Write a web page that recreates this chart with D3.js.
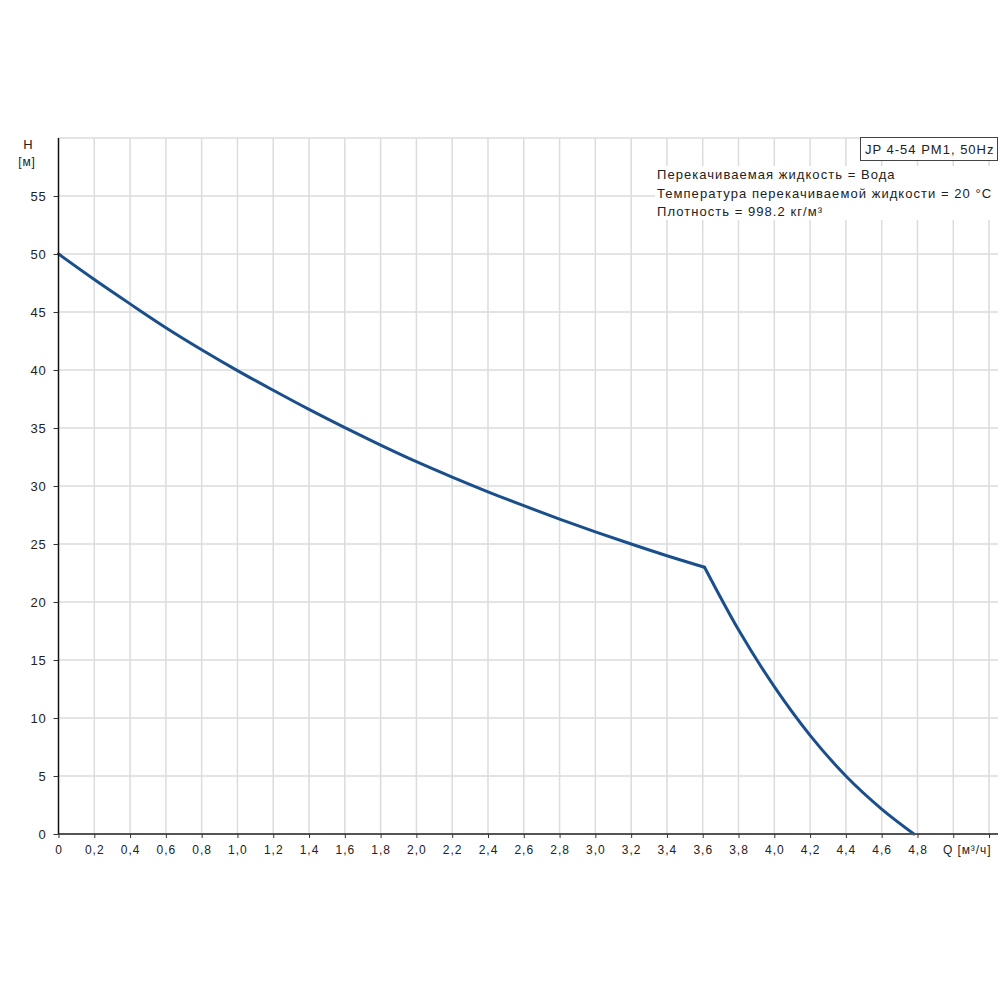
<!DOCTYPE html>
<html>
<head>
<meta charset="utf-8">
<script src="https://cdn.jsdelivr.net/npm/d3@7"></script>
<style>
  body { margin: 0; background: #fff; }
  text { font-family: "Liberation Sans", Arial, sans-serif; fill: #222; }
</style>
</head>
<body>
<div id="container"><svg></svg></div>
<script>
let width = 1000;
let height = 1000;
let padding = {'left': 58.5, 'right': 2, 'top': 138, 'bottom': 166};

// pump curve (Q in m3/h, H in m)
let flowA = [0, 0.2, 0.4, 0.6, 0.8, 1.0, 1.2, 1.4, 1.6, 1.8, 2.0, 2.2, 2.4, 2.6, 2.8, 3.0, 3.2, 3.4, 3.61];
let headA = [50, 47.8, 45.7, 43.65, 41.75, 39.95, 38.25, 36.6, 35.03, 33.53, 32.1, 30.77, 29.5, 28.3, 27.15, 26.05, 25.0, 23.99, 23.0];
let flowB = [3.61, 3.8, 4.0, 4.2, 4.4, 4.6, 4.78];
let headB = [23.0, 17.6, 12.7, 8.5, 5.0, 2.15, 0];

let xTicks = d3.range(0, 5.21, 0.2).map(d => +d.toFixed(1));
let yTicks = d3.range(0, 56, 5);
let yGrid = d3.range(5, 61, 5);
let xLabelTicks = xTicks.filter(d => d <= 4.8);

let title = 'JP 4-54 PM1, 50Hz';
let infoLines = [
    'Перекачиваемая жидкость = Вода',
    'Температура перекачиваемой жидкости = 20 °C',
    'Плотность = 998.2 кг/м³'
];

let svg, xScale, yScale;

function fmt(d) {
    return d === 0 ? '0' : d.toFixed(1).replace('.', ',');
}

function draw() {
    xScale = d3.scaleLinear()
        .domain([0, 5.25])
        .range([padding.left, width - padding.right]);
    yScale = d3.scaleLinear()
        .domain([0, 60])
        .range([height - padding.bottom, padding.top]);

    let x0 = xScale(0), x1 = xScale(5.25);
    let y0 = yScale(0), y1 = yScale(60);

    // grid
    let grid = svg.append('g')
        .attr('stroke', '#dadcdd')
        .attr('stroke-width', 1.5);
    grid.selectAll('line.v')
        .data(xTicks.filter(d => d > 0))
        .join('line')
        .attr('x1', d => xScale(d)).attr('x2', d => xScale(d))
        .attr('y1', y0).attr('y2', y1);
    grid.selectAll('line.h')
        .data(yGrid)
        .join('line')
        .attr('x1', x0).attr('x2', x1)
        .attr('y1', d => yScale(d)).attr('y2', d => yScale(d));

    // white area behind the info text
    svg.append('rect')
        .attr('x', 655).attr('y', 166)
        .attr('width', x1 - 655).attr('height', 54)
        .attr('fill', '#fff');

    // curve
    let line = d3.line()
        .x(d => xScale(d[0]))
        .y(d => yScale(d[1]))
        .curve(d3.curveMonotoneX);
    let segs = [d3.zip(flowA, headA), d3.zip(flowB, headB)];
    svg.append('g')
        .selectAll('path')
        .data(segs)
        .join('path')
        .attr('d', line)
        .attr('fill', 'none')
        .attr('stroke', '#1b4f8c')
        .attr('stroke-width', 3)
        .attr('stroke-linejoin', 'round')
        .attr('stroke-linecap', 'round');

    // x axis
    let xAxis = svg.append('g')
        .attr('transform', `translate(0, ${y0})`)
        .call(d3.axisBottom(xScale)
            .tickValues(xTicks)
            .tickSize(4)
            .tickFormat(''));
    xAxis.select('.domain')
        .attr('d', `M${x0},0H${x1}`)
        .attr('stroke', '#555')
        .attr('stroke-width', 2);
    xAxis.selectAll('.tick line').attr('stroke', '#333');
    svg.append('g')
        .selectAll('text')
        .data(xLabelTicks)
        .join('text')
        .attr('x', d => xScale(d) + 0.5)
        .attr('y', y0 + 20)
        .attr('text-anchor', 'middle')
        .attr('font-size', 12)
        .attr('letter-spacing', 1)
        .text(fmt);
    svg.append('text')
        .attr('x', 943).attr('y', y0 + 20)
        .attr('font-size', 12)
        .attr('letter-spacing', 0.9)
        .text('Q [м³/ч]');

    // y axis
    let yAxis = svg.append('g')
        .attr('transform', `translate(${x0}, 0)`)
        .call(d3.axisLeft(yScale)
            .tickValues(yTicks)
            .tickSize(5)
            .tickPadding(7)
            .tickFormat(d => d));
    yAxis.select('.domain')
        .attr('d', `M0,${y0}V${y1}`)
        .attr('stroke', '#111')
        .attr('stroke-width', 1.5);
    yAxis.selectAll('.tick line').attr('stroke', '#333');
    yAxis.selectAll('.tick text')
        .attr('font-size', 13)
        .attr('letter-spacing', 0.8)
        .attr('font-family', '"Liberation Sans", Arial, sans-serif')
        .attr('fill', '#222');
    svg.append('text')
        .attr('x', 28).attr('y', 149)
        .attr('text-anchor', 'middle')
        .attr('font-size', 13)
        .text('H');
    svg.append('text')
        .attr('x', 27).attr('y', 166)
        .attr('text-anchor', 'middle')
        .attr('font-size', 12)
        .attr('letter-spacing', 0.8)
        .text('[м]');

    // title box
    svg.append('rect')
        .attr('x', 860.5).attr('y', 137.5)
        .attr('width', 137).attr('height', 23)
        .attr('fill', '#fff')
        .attr('stroke', '#444');
    svg.append('text')
        .attr('x', 865).attr('y', 154)
        .attr('font-size', 13)
        .attr('letter-spacing', 1.0)
        .text(title);

    // info text
    svg.append('g')
        .selectAll('text')
        .data(infoLines)
        .join('text')
        .attr('x', 657)
        .attr('y', (d, i) => 179 + i * 18.5)
        .attr('font-size', 13)
        .attr('letter-spacing', 1.05)
        .text(d => d);
}

function main() {
    svg = d3.select('#container')
        .select('svg')
        .attr('width', width)
        .attr('height', height);
    draw();
}

main()
</script>
</body>
</html>
